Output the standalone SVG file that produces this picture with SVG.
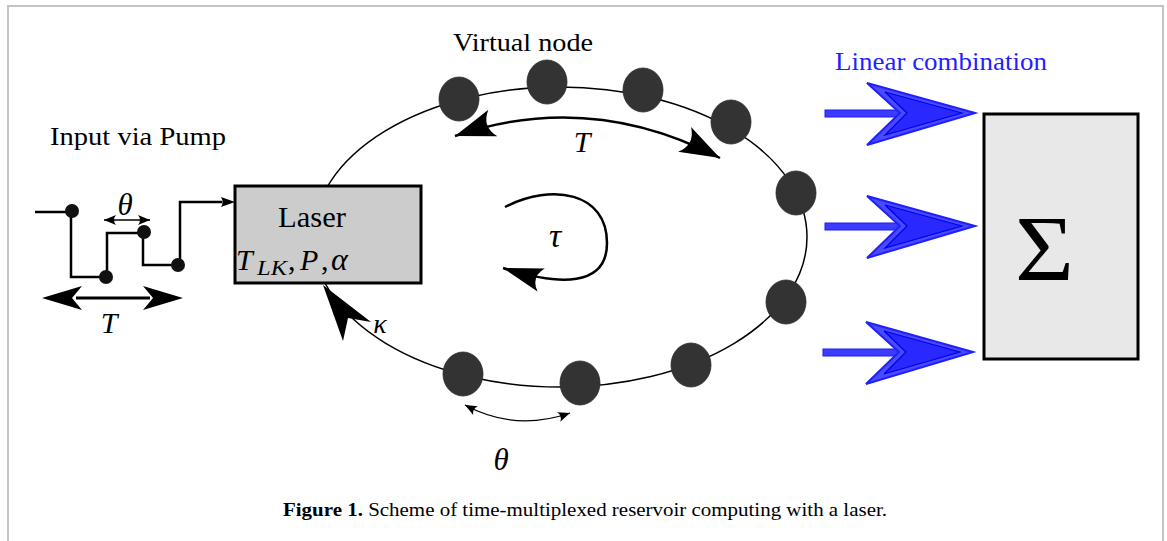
<svg xmlns="http://www.w3.org/2000/svg" width="1167" height="541" viewBox="0 0 1167 541">
<defs>
<style>
.lbl{font-family:"Liberation Serif","DejaVu Serif",serif;fill:#000}
.math{font-family:"Liberation Serif","DejaVu Serif",serif;font-style:italic;fill:#000}
.node{fill:#333333;stroke:#2a2a2a;stroke-width:0.8}
.wire{fill:none;stroke:#000;stroke-width:2.5}
.dot{fill:#111}
.blueShaft{fill:#3c3cff;stroke:#1a1aff;stroke-width:1}
.blueHead{fill:#4a4aff;stroke:#2020ff;stroke-width:2}
.blueInner{fill:#2828ff;stroke:#0000ee;stroke-width:1.2}
</style>
<marker id="bigHead" markerUnits="userSpaceOnUse" viewBox="-42 -16 44 32" refX="0" refY="0" markerWidth="44" markerHeight="32" orient="auto-start-reverse">
<path d="M0,0 L-40,-14 Q-28,0 -40,14 Z" fill="#000"/>
</marker>
<marker id="tauHead" markerUnits="userSpaceOnUse" viewBox="-42 -15 44 30" refX="0" refY="0" markerWidth="44" markerHeight="30" orient="auto">
<path d="M0,0 L-40,-12 Q-29,0 -40,12 Z" fill="#000"/>
</marker>
<marker id="smallHead" markerUnits="userSpaceOnUse" viewBox="-14 -7 16 14" refX="0" refY="0" markerWidth="16" markerHeight="14" orient="auto-start-reverse">
<path d="M0,0 L-12,-5 Q-8,0 -12,5 Z" fill="#000"/>
</marker>
</defs>
<rect width="1167" height="541" fill="#fff"/>
<path d="M8,541 V6 H1163 V541" fill="none" stroke="#c4c4c4" stroke-width="2"/>

<g id="connectors">
<ellipse cx="560" cy="237" rx="247" ry="150" fill="none" stroke="#000" stroke-width="1.5"/>
<path d="M455,136 Q590,90 720,158" fill="none" stroke="#000" stroke-width="2.5" marker-start="url(#bigHead)" marker-end="url(#bigHead)"/>
<path d="M505,207 C552,183 607,192 607,243 C607,287 560,286 503,268" fill="none" stroke="#000" stroke-width="2.5" marker-end="url(#tauHead)"/>
<path d="M465,405 Q515,432 570,413" fill="none" stroke="#000" stroke-width="1.3" marker-start="url(#smallHead)" marker-end="url(#smallHead)"/>
<path d="M323,285 L343,341 L348,318 L371,322 Z" fill="#000"/>
<path d="M104,220 H150" fill="none" stroke="#000" stroke-width="1.3" marker-start="url(#smallHead)" marker-end="url(#smallHead)"/>
<path d="M42,298 L82,286 L72,298 L82,310 Z M183,298 L143,286 L153,298 L143,310 Z" fill="#000"/>
<path d="M76,298 H150" stroke="#000" stroke-width="3"/>
<g id="blue-arrows">
<rect class="blueShaft" x="825" y="110" width="78" height="7"/>
<path class="blueHead" d="M975,113 L867,83 L900,113 L867,145 Z"/>
<path class="blueInner" d="M962,113 L885,92 L907,113 L885,135 Z"/>
<rect class="blueShaft" x="825" y="223" width="78" height="7"/>
<path class="blueHead" d="M975,226 L867,196 L900,226 L867,258 Z"/>
<path class="blueInner" d="M962,226 L885,205 L907,226 L885,248 Z"/>
<rect class="blueShaft" x="823" y="349" width="80" height="7"/>
<path class="blueHead" d="M973,352 L866,322 L899,352 L866,384 Z"/>
<path class="blueInner" d="M960,352 L884,331 L906,352 L884,374 Z"/>
</g>
</g>

<g id="input-signal">
<path class="wire" d="M35,212 H71 V277 H107 V233 H143 V265 H180 V202 H222"/>
<path d="M235,202 L221,197 Q224,202 221,207 Z" fill="#000"/>
<circle class="dot" cx="72" cy="211" r="7"/>
<circle class="dot" cx="106" cy="277" r="7"/>
<circle class="dot" cx="144" cy="232" r="7"/>
<circle class="dot" cx="178" cy="265" r="7"/>
<text class="math" x="125" y="215" font-size="31" text-anchor="middle">θ</text>
<text class="math" x="109" y="333" font-size="30" text-anchor="middle">T</text>
<text class="lbl" x="50" y="145" font-size="25" textLength="176" lengthAdjust="spacingAndGlyphs">Input via Pump</text>
</g>

<g id="laser">
<rect x="235" y="186" width="186" height="97" fill="#cccccc" stroke="#000" stroke-width="3"/>
<text class="lbl" x="278" y="227" font-size="29" textLength="68" lengthAdjust="spacingAndGlyphs">Laser</text>
<text class="math" font-size="30" y="270"><tspan x="236">T</tspan><tspan x="257" y="275" font-size="22" textLength="30" lengthAdjust="spacingAndGlyphs">LK</tspan><tspan x="288" y="270" font-style="normal">,</tspan><tspan x="300">P</tspan><tspan x="321" font-style="normal">,</tspan><tspan x="331" font-size="32">α</tspan></text>
</g>

<g id="virtual-nodes">
<ellipse class="node" cx="459" cy="99" rx="20" ry="22"/>
<ellipse class="node" cx="547" cy="82" rx="20" ry="22"/>
<ellipse class="node" cx="643" cy="90" rx="20" ry="22"/>
<ellipse class="node" cx="731" cy="122" rx="20" ry="22"/>
<ellipse class="node" cx="796" cy="193" rx="20" ry="22"/>
<ellipse class="node" cx="786" cy="302" rx="20" ry="22"/>
<ellipse class="node" cx="691" cy="365" rx="20" ry="22"/>
<ellipse class="node" cx="580" cy="383" rx="20" ry="22"/>
<ellipse class="node" cx="463" cy="374" rx="20" ry="22"/>
<text class="lbl" x="453" y="51" font-size="25" textLength="140" lengthAdjust="spacingAndGlyphs">Virtual node</text>
</g>

<g id="labels">
<text class="math" x="582" y="152" font-size="30" text-anchor="middle">T</text>
<text class="math" x="555" y="247" font-size="34" text-anchor="middle">τ</text>
<text class="math" x="501" y="470" font-size="31" text-anchor="middle">θ</text>
<text class="math" x="380" y="333" font-size="28" text-anchor="middle">κ</text>
<text class="lbl" x="835" y="70" font-size="25" textLength="212" lengthAdjust="spacingAndGlyphs" style="fill:#1f1fff">Linear combination</text>
</g>

<g id="sum">
<rect x="984" y="114" width="154" height="245" fill="#e8e8e8" stroke="#000" stroke-width="3"/>
<text class="lbl" x="1015" y="280" font-size="94" textLength="59" lengthAdjust="spacingAndGlyphs">Σ</text>
</g>

<g id="caption">
<text class="lbl" x="283" y="516" font-size="19" textLength="604" lengthAdjust="spacingAndGlyphs"><tspan font-weight="bold">Figure 1.</tspan> Scheme of time-multiplexed reservoir computing with a laser.</text>
</g>
</svg>
